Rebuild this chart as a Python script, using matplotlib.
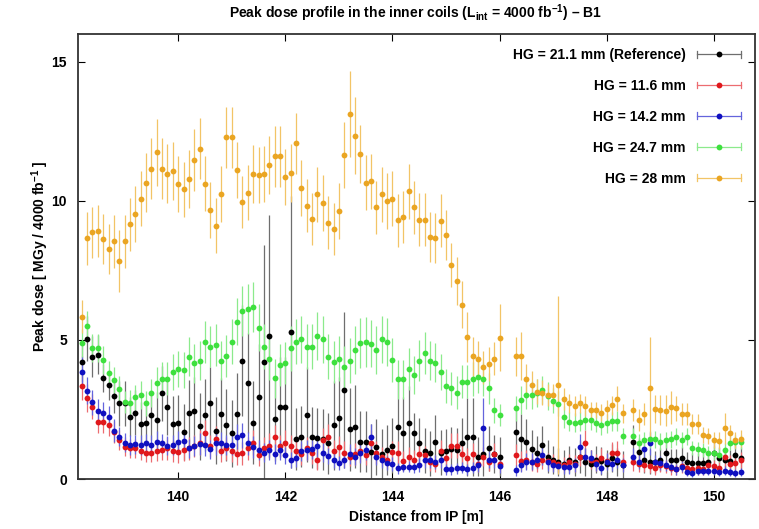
import numpy as np
import matplotlib
matplotlib.use("Agg")
import matplotlib.pyplot as plt
from matplotlib.lines import Line2D
from matplotlib.legend_handler import HandlerBase

plt.rcParams['font.family'] = ['Liberation Sans', 'DejaVu Sans']
plt.rcParams['font.weight'] = 'bold'
plt.rcParams['mathtext.fontset'] = 'custom'
plt.rcParams['mathtext.rm'] = 'Liberation Sans:bold'
plt.rcParams['mathtext.it'] = 'Liberation Sans:bold'
plt.rcParams['mathtext.bf'] = 'Liberation Sans:bold'
plt.rcParams['mathtext.default'] = 'rm'

# ---------------- data ----------------
# positions along the beam line (m): three measured segments, 0.1 m pitch
seg1 = np.round(np.arange(138.2, 146.05, 0.1), 2)   # 79 points
seg2 = np.round(np.arange(146.3, 148.35, 0.1), 2)   # 21 points
seg3 = np.round(np.arange(148.5, 150.55, 0.1), 2)   # 21 points
distance = np.concatenate([seg1, seg2, seg3])

labels = ["HG = 21.1 mm (Reference)", "HG = 11.6 mm", "HG = 14.2 mm",
          "HG = 24.7 mm", "HG = 28 mm"]

dose_ref = [
    4.20, 5.05, 4.40, 4.46, 3.62, 3.38, 2.99, 2.72, 2.72, 2.24,
    2.39, 1.98, 2.03, 2.30, 2.12, 3.08, 2.58, 1.98, 2.01, 1.70,
    2.36, 2.46, 1.90, 2.30, 2.72, 1.74, 2.32, 1.94, 1.64, 2.32,
    4.26, 3.44, 2.03, 2.94, 4.20, 5.15, 2.15, 2.60, 2.60, 5.28,
    1.44, 1.52, 2.31, 1.50, 1.47, 1.43, 1.28, 1.94, 2.18, 3.20,
    1.79, 1.88, 1.34, 1.34, 0.98, 1.16, 0.90, 1.04, 1.20, 1.88,
    1.64, 2.00, 1.64, 1.31, 1.02, 0.92, 1.34, 0.95, 1.00, 1.07,
    1.04, 1.30, 1.52, 1.52, 0.80, 0.90, 1.10, 0.90, 0.80,
    1.70, 1.43, 1.34, 1.07, 0.95, 1.22, 0.80, 0.68, 0.60, 0.55,
    0.70, 0.60, 0.80, 0.60, 0.55, 0.70, 0.65, 0.55, 0.75, 0.60, 0.50,
    1.34, 0.98, 0.68, 0.62, 0.62, 0.70, 0.92, 0.68, 0.68, 0.74,
    0.62, 0.59, 0.59, 0.59, 0.62, 0.92, 0.74, 0.70, 0.65, 0.86, 0.75]
err_ref = [
    0.70, 0.80, 0.75, 0.70, 0.50, 0.55, 0.60, 0.80, 0.80, 0.70,
    0.80, 0.80, 0.80, 0.90, 1.00, 1.00, 1.00, 1.00, 1.00, 1.00,
    1.20, 1.20, 1.20, 1.30, 1.30, 1.20, 1.30, 1.30, 1.20, 1.50,
    2.00, 1.80, 1.50, 1.90, 4.20, 4.35, 1.50, 1.80, 1.80, 4.90,
    1.10, 1.10, 1.70, 1.10, 1.10, 1.10, 1.10, 1.60, 1.50, 2.80,
    1.50, 1.50, 1.10, 1.10, 1.00, 1.00, 0.90, 0.90, 1.00, 1.60,
    1.30, 1.35, 0.75, 0.90, 0.80, 0.80, 0.95, 0.80, 0.80, 0.80,
    0.80, 0.90, 1.40, 1.40, 0.70, 0.80, 0.80, 0.70, 0.70,
    0.90, 0.90, 0.80, 0.70, 0.60, 0.70, 0.60, 0.50, 0.50, 0.50,
    0.50, 0.50, 0.60, 0.50, 0.50, 0.50, 0.50, 0.50, 0.50, 0.50, 0.50,
    0.60, 0.50, 0.45, 0.45, 0.40, 0.40, 0.50, 0.40, 0.40, 0.40,
    0.35, 0.35, 0.35, 0.35, 0.35, 0.50, 0.40, 0.40, 0.40, 0.50, 0.40]

dose_116 = [
    3.35, 2.90, 2.60, 2.06, 2.06, 1.94, 1.70, 1.40, 1.16, 1.10,
    1.10, 1.02, 0.95, 0.95, 1.00, 1.05, 1.10, 1.00, 0.98, 1.04,
    1.10, 1.20, 1.30, 1.67, 1.20, 1.45, 1.00, 1.10, 1.00, 0.90,
    0.92, 1.10, 1.30, 0.86, 1.10, 1.20, 1.50, 1.20, 1.30, 1.20,
    1.00, 0.90, 1.10, 0.95, 0.68, 1.40, 1.52, 1.00, 1.16, 0.95,
    0.80, 0.90, 1.00, 0.85, 1.30, 0.95, 0.80, 0.70, 0.98, 0.95,
    0.65, 0.80, 0.70, 0.90, 0.85, 0.60, 0.55, 1.00, 0.75, 1.20,
    1.20, 0.90, 0.75, 0.90, 0.55, 0.80, 0.60, 0.90, 0.55,
    0.86, 0.65, 0.70, 0.60, 0.55, 0.70, 0.65, 0.60, 0.55, 0.50,
    0.60, 0.55, 0.80, 1.31, 0.70, 0.60, 0.75, 0.65, 0.92, 0.95, 0.60,
    0.60, 0.55, 0.50, 0.45, 0.40, 0.50, 0.45, 0.40, 0.35, 0.45,
    0.40, 0.35, 0.40, 0.35, 0.50, 0.45, 0.40, 0.79, 0.55, 0.59, 0.68]
err_116 = [
    0.50, 0.50, 0.45, 0.40, 0.40, 0.40, 0.40, 0.35, 0.35, 0.35,
    0.35, 0.35, 0.35, 0.35, 0.35, 0.35, 0.40, 0.40, 0.40, 0.40,
    0.40, 0.40, 0.45, 0.45, 0.40, 0.45, 0.40, 0.40, 0.40, 0.40,
    0.40, 0.40, 0.45, 0.40, 0.40, 0.45, 0.45, 0.40, 0.45, 0.40,
    0.40, 0.40, 0.40, 0.40, 0.35, 0.45, 0.45, 0.40, 0.40, 0.40,
    0.35, 0.40, 0.40, 0.35, 0.45, 0.40, 0.35, 0.35, 0.40, 0.40,
    0.35, 0.35, 0.35, 0.40, 0.35, 0.30, 0.30, 0.40, 0.35, 0.45,
    0.45, 0.40, 0.35, 0.40, 0.30, 0.35, 0.30, 0.40, 0.30,
    0.40, 0.35, 0.35, 0.30, 0.30, 0.35, 0.30, 0.30, 0.30, 0.30,
    0.30, 0.30, 0.35, 0.45, 0.35, 0.30, 0.35, 0.30, 0.40, 0.40, 0.30,
    0.30, 0.30, 0.25, 0.25, 0.25, 0.25, 0.25, 0.25, 0.20, 0.25,
    0.25, 0.20, 0.25, 0.20, 0.25, 0.25, 0.25, 0.35, 0.30, 0.30, 0.30]

dose_142 = [
    3.86, 3.18, 2.76, 2.46, 2.36, 2.24, 1.74, 1.52, 1.31, 1.22,
    1.25, 1.22, 1.28, 1.22, 1.34, 1.28, 1.20, 1.22, 1.34, 1.38,
    1.10, 1.18, 1.26, 1.22, 1.07, 1.28, 1.28, 1.22, 1.22, 1.52,
    1.58, 1.28, 1.16, 1.05, 0.95, 1.04, 0.90, 1.04, 0.85, 0.68,
    0.74, 1.00, 1.04, 1.07, 1.19, 0.95, 0.83, 0.68, 0.56, 0.68,
    0.90, 0.80, 0.92, 1.04, 1.52, 0.80, 0.68, 0.56, 0.53, 0.38,
    0.44, 0.44, 0.42, 0.50, 0.68, 0.68, 0.60, 0.68, 0.35, 0.35,
    0.38, 0.40, 0.35, 0.40, 0.50, 1.82, 0.70, 0.70, 0.45,
    0.32, 0.50, 0.62, 0.62, 0.68, 0.86, 0.60, 0.50, 0.47, 0.44,
    0.44, 0.50, 1.16, 0.80, 0.75, 0.55, 0.38, 0.62, 0.55, 0.68, 0.50,
    0.80, 0.62, 1.07, 1.28, 0.62, 0.59, 0.50, 0.44, 0.35, 0.44,
    0.26, 0.23, 0.30, 0.30, 0.28, 0.30, 0.26, 0.30, 0.25, 0.22, 0.26]
err_142 = [
    0.55, 0.50, 0.45, 0.40, 0.40, 0.40, 0.40, 0.35, 0.35, 0.35,
    0.35, 0.35, 0.35, 0.35, 0.40, 0.35, 0.35, 0.35, 0.40, 0.40,
    0.35, 0.35, 0.40, 0.40, 0.35, 0.40, 0.40, 0.35, 0.35, 0.45,
    0.45, 0.40, 0.40, 0.35, 0.35, 0.35, 0.35, 0.35, 0.30, 0.30,
    0.30, 0.35, 0.35, 0.35, 0.40, 0.35, 0.30, 0.30, 0.25, 0.30,
    0.35, 0.30, 0.35, 0.35, 0.45, 0.30, 0.30, 0.25, 0.25, 0.20,
    0.20, 0.20, 0.20, 0.25, 0.30, 0.30, 0.25, 0.30, 0.20, 0.20,
    0.20, 0.20, 0.20, 0.20, 0.25, 1.10, 0.30, 0.30, 0.25,
    0.20, 0.25, 0.30, 0.30, 0.30, 0.35, 0.30, 0.25, 0.25, 0.25,
    0.25, 0.25, 0.45, 0.30, 0.30, 0.25, 0.20, 0.30, 0.25, 0.30, 0.25,
    0.30, 0.25, 0.35, 0.40, 0.25, 0.25, 0.20, 0.20, 0.20, 0.20,
    0.15, 0.15, 0.15, 0.15, 0.15, 0.15, 0.15, 0.15, 0.15, 0.15, 0.15]

dose_247 = [
    4.88, 5.50, 4.72, 4.70, 4.28, 3.80, 3.56, 3.25, 2.78, 2.75,
    2.94, 3.02, 2.72, 3.08, 3.47, 3.59, 3.61, 3.86, 3.95, 3.92,
    4.40, 4.16, 4.26, 4.93, 4.76, 4.81, 4.26, 4.42, 4.94, 5.66,
    6.04, 6.10, 6.18, 5.44, 4.76, 4.30, 3.62, 4.10, 4.16, 4.70,
    4.94, 5.02, 4.76, 4.76, 5.14, 5.02, 4.40, 4.22, 4.33, 4.02,
    4.26, 4.64, 4.88, 4.94, 4.86, 4.64, 5.02, 4.93, 4.28, 3.59,
    3.59, 3.95, 3.74, 4.26, 4.52, 4.26, 4.18, 3.86, 3.35, 3.26,
    3.10, 3.50, 3.50, 3.59, 3.68, 3.59, 3.26, 2.48, 2.30,
    2.54, 2.84, 3.02, 3.02, 3.08, 3.20, 2.99, 2.82, 2.70, 2.22,
    2.06, 2.03, 2.06, 2.12, 2.12, 2.03, 1.94, 2.00, 2.07, 2.08, 1.55,
    1.55, 1.31, 1.40, 1.43, 1.43, 1.34, 1.40, 1.43, 1.52, 1.40,
    1.52, 1.10, 1.07, 1.04, 0.95, 0.95, 0.86, 1.04, 1.28, 1.34, 1.34]
err_247 = [
    0.50, 0.55, 0.50, 0.50, 0.50, 0.45, 0.45, 0.45, 0.40, 0.45,
    0.45, 0.50, 0.45, 0.50, 0.55, 0.60, 0.60, 0.65, 0.65, 0.65,
    0.70, 0.70, 0.70, 0.75, 0.75, 0.75, 0.70, 0.75, 0.80, 0.85,
    0.90, 0.90, 0.90, 0.85, 0.80, 0.75, 0.70, 0.75, 0.75, 0.80,
    0.80, 0.85, 0.80, 0.80, 0.85, 0.85, 0.80, 0.75, 0.80, 0.75,
    0.80, 0.85, 0.90, 0.90, 0.85, 0.85, 0.85, 0.85, 0.80, 0.70,
    0.70, 0.75, 0.70, 0.75, 0.75, 0.70, 0.70, 0.65, 0.60, 0.60,
    0.60, 0.60, 0.60, 0.60, 0.60, 0.60, 0.55, 0.45, 0.40,
    0.45, 0.50, 0.50, 0.50, 0.50, 0.50, 0.50, 0.45, 0.45, 0.40,
    0.35, 0.35, 0.35, 0.35, 0.35, 0.35, 0.35, 0.35, 0.35, 0.35, 0.30,
    0.30, 0.30, 0.30, 0.30, 0.30, 0.30, 0.30, 0.30, 0.30, 0.30,
    0.30, 0.25, 0.25, 0.25, 0.25, 0.25, 0.25, 0.25, 0.25, 0.25, 0.25]

dose_28 = [
    5.84, 8.66, 8.87, 8.92, 8.63, 8.27, 8.54, 7.84, 8.54, 9.16,
    9.52, 10.08, 10.66, 11.15, 11.75, 11.15, 10.98, 11.07, 10.60, 10.41,
    10.78, 11.47, 11.88, 10.62, 9.67, 9.11, 10.25, 12.29, 12.29, 11.10,
    9.96, 10.30, 10.97, 10.92, 10.97, 11.30, 11.60, 11.60, 10.85, 11.00,
    12.07, 10.46, 9.82, 9.35, 10.23, 9.92, 9.21, 8.99, 9.63, 11.65,
    13.12, 12.35, 11.68, 10.66, 10.70, 9.77, 10.23, 9.99, 10.08, 9.30,
    9.42, 10.34, 9.77, 9.33, 9.33, 8.69, 8.65, 9.28, 8.79, 7.70,
    7.12, 6.27, 5.12, 4.42, 4.30, 4.02, 4.14, 4.33, 5.08,
    4.42, 4.42, 3.59, 3.39, 3.13, 3.10, 3.01, 3.01, 3.39, 2.87,
    2.72, 2.63, 2.72, 2.63, 2.48, 2.48, 2.39, 2.50, 2.65, 2.88, 2.36,
    2.48, 2.12, 2.34, 3.26, 2.51, 2.48, 2.46, 2.58, 2.55, 2.34,
    2.34, 1.98, 1.98, 1.58, 1.55, 1.40, 1.38, 1.82, 1.64, 1.40, 1.45]
err_28 = [
    0.60, 0.95, 0.92, 0.95, 0.90, 0.90, 0.95, 1.10, 0.95, 0.95,
    1.00, 1.00, 1.05, 1.10, 1.20, 1.10, 1.05, 1.05, 1.00, 1.00,
    1.05, 1.10, 1.10, 1.00, 1.00, 1.00, 1.00, 1.10, 1.10, 1.00,
    0.95, 1.00, 1.05, 1.00, 1.00, 1.05, 1.10, 1.10, 1.00, 1.05,
    1.10, 1.00, 0.95, 0.95, 1.00, 1.00, 0.95, 0.95, 1.00, 1.20,
    1.55, 1.40, 1.05, 1.00, 1.00, 0.95, 1.00, 1.00, 1.00, 0.95,
    0.95, 1.00, 0.95, 0.95, 0.95, 0.90, 0.90, 0.95, 0.90, 0.80,
    0.85, 0.85, 0.90, 0.70, 0.65, 0.60, 0.60, 0.60, 1.20,
    0.70, 0.85, 0.55, 0.50, 0.45, 0.45, 0.40, 0.40, 3.20, 0.40,
    0.35, 0.35, 0.35, 0.35, 0.30, 0.30, 0.30, 0.35, 0.35, 0.45, 0.35,
    0.40, 0.40, 0.40, 1.85, 0.50, 0.55, 0.55, 0.60, 0.45, 0.40,
    0.40, 0.35, 0.35, 0.30, 0.30, 0.30, 0.30, 0.55, 0.30, 0.30, 0.30]

series = [dose_ref, dose_116, dose_142, dose_247, dose_28]
errors = [err_ref, err_116, err_142, err_247, err_28]
colors = ['#000000', '#e0181c', '#1010c0', '#3ee03e', '#eaa522']
ecolors = ['#6e6e6e', '#ec6c70', '#6464dc', '#8cea8c', '#f2c466']

# ---------------- figure ----------------
fig = plt.figure(figsize=(7.59, 5.29), dpi=100)
ax = fig.add_axes([0.1028, 0.0945, 0.8920, 0.8412])

for y, e, c, ec in zip(series, errors, colors, ecolors):
    ax.errorbar(distance, y, yerr=e, fmt='o', color=c, ecolor=ec,
                elinewidth=0.9, capsize=2.0, capthick=0.9, ms=4.2, mew=0,
                zorder=2)

ax.set_xlim(138.13, 150.77)
ax.set_ylim(0, 16)
ax.set_xticks([140, 142, 144, 146, 148, 150])
ax.set_yticks([0, 5, 10, 15])
ax.tick_params(direction='in', length=5, width=0.8, top=True, right=True,
               labelsize=10, pad=8)
for lab in ax.get_xticklabels() + ax.get_yticklabels():
    lab.set_fontweight('bold')
for s in ax.spines.values():
    s.set_linewidth(1.3)
    s.set_color('#333333')

ax.set_xlabel("Distance from IP [m]", fontsize=10, fontweight='bold', labelpad=4)
ax.set_ylabel(r"Peak dose [ MGy / 4000 fb$^{-1}$ ]", fontsize=10,
              fontweight='bold', labelpad=0)
fig.suptitle(r"Peak dose profile in the inner coils (L$_{int}$ = 4000 fb$^{-1}$) – B1",
             fontsize=10, fontweight='bold', x=0.548, y=0.995)


class HErrHandler(HandlerBase):
    def create_artists(self, legend, orig_handle, xdescent, ydescent,
                       width, height, fontsize, trans):
        c = orig_handle.get_color()
        ec = orig_handle.get_markeredgecolor()
        yc = height / 2 - ydescent
        x0, x1 = -xdescent, -xdescent + width
        h = 2.5
        arts = [
            Line2D([x0, x1], [yc, yc], color=ec, lw=0.9),
            Line2D([x0, x0], [yc - h, yc + h], color=ec, lw=0.9),
            Line2D([x1, x1], [yc - h, yc + h], color=ec, lw=0.9),
            Line2D([(x0 + x1) / 2], [yc], marker='o', ms=4.2, mew=0, color=c,
                   linestyle='none'),
        ]
        for a in arts:
            a.set_transform(trans)
        return arts


handles = [Line2D([], [], color=c, markeredgecolor=ec)
           for c, ec in zip(colors, ecolors)]
leg = ax.legend(handles, labels, handler_map={Line2D: HErrHandler()},
                loc='upper right', frameon=False, markerfirst=False,
                prop={'weight': 'bold', 'size': 10},
                handlelength=3.2, handletextpad=0.8, labelspacing=1.22,
                borderaxespad=0.6, borderpad=0.4)

fig.savefig("out.png", dpi=100)
